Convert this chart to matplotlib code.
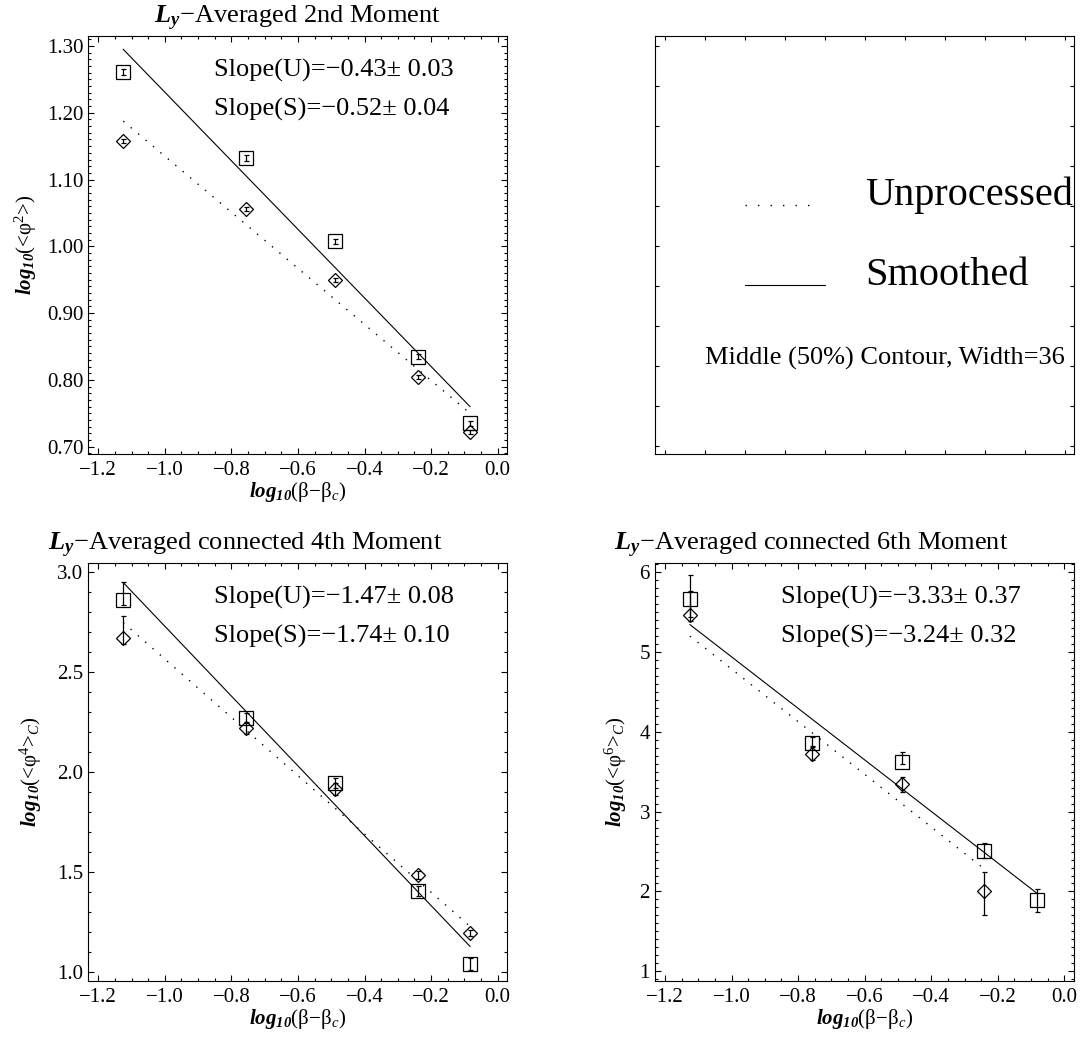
import numpy as np
import matplotlib
matplotlib.use('Agg')
import matplotlib.pyplot as plt
from matplotlib.ticker import MultipleLocator, FuncFormatter

plt.rcParams['font.family'] = 'Liberation Serif'
plt.rcParams['mathtext.fontset'] = 'custom'
plt.rcParams['mathtext.rm'] = 'Liberation Serif'
plt.rcParams['mathtext.it'] = 'Liberation Serif:italic'
plt.rcParams['mathtext.bf'] = 'Liberation Serif:bold'
plt.rcParams['mathtext.bfit'] = 'Liberation Serif:italic:bold'

# log10(beta - beta_c) for the five runs
x = [-1.125, -0.757, -0.488, -0.240, -0.083]

# 2nd moment
m2_s = [1.261, 1.1325, 1.0075, 0.835, 0.735]
m2_s_lo = [0.004, 0.004, 0.004, 0.004, 0.004]
m2_s_hi = [0.004, 0.004, 0.004, 0.004, 0.004]
m2_u = [1.1575, 1.0565, 0.950, 0.804, 0.7225]
m2_u_lo = [0.003, 0.003, 0.003, 0.003, 0.003]
m2_u_hi = [0.003, 0.003, 0.003, 0.003, 0.003]
m2_fit_s = [1.295, 0.760]
m2_fit_u = [1.1875, 0.750]

# connected 4th moment
m4_s = [2.857, 2.271, 1.945, 1.404, 1.040]
m4_s_lo = [0.025, 0.025, 0.025, 0.025, 0.03]
m4_s_hi = [0.09, 0.025, 0.025, 0.025, 0.03]
m4_u = [2.667, 2.218, 1.915, 1.481, 1.194]
m4_u_lo = [0.03, 0.03, 0.03, 0.02, 0.015]
m4_u_hi = [0.11, 0.03, 0.03, 0.02, 0.015]
m4_fit_s = [2.946, 1.126]
m4_fit_u = [2.746, 1.226]

# connected 6th moment (last unprocessed point not defined)
m6_s = [5.66, 3.86, 3.62, 2.51, 1.89]
m6_s_lo = [0.22, 0.05, 0.03, 0.09, 0.15]
m6_s_hi = [0.30, 0.07, 0.12, 0.10, 0.14]
m6_u = [5.46, 3.72, 3.34, 2.00, np.nan]
m6_u_lo = [0.08, 0.07, 0.09, 0.29, np.nan]
m6_u_hi = [0.30, 0.10, 0.09, 0.25, np.nan]
m6_fit_s = [5.339, 1.98]
m6_fit_u = [5.195, 2.28]

slopes2 = ['Slope(U)=\u22120.43\u00b1 0.03', 'Slope(S)=\u22120.52\u00b1 0.04']
slopes4 = ['Slope(U)=\u22121.47\u00b1 0.08', 'Slope(S)=\u22121.74\u00b1 0.10']
slopes6 = ['Slope(U)=\u22123.33\u00b1 0.37', 'Slope(S)=\u22123.24\u00b1 0.32']

xlab = r'$\mathbfit{log_{10}}$(β−β$_c$)'

fig = plt.figure(figsize=(10.8, 10.43), dpi=100)
W, H = 419 / 1080, 418 / 1043
ax2 = fig.add_axes([88.3 / 1080, 1 - 454 / 1043, W, H])
axl = fig.add_axes([655 / 1080, 1 - 454 / 1043, W, H])
ax4 = fig.add_axes([88.3 / 1080, 1 - 981 / 1043, W, H])
ax6 = fig.add_axes([655 / 1080, 1 - 981 / 1043, W, H])

dotted = (0, (1, 6))


def fmt(f):
    return FuncFormatter(lambda v, p: (f % v).replace('-', '\u2212'))


def panel(ax, s, slo, shi, u, ulo, uhi, fs, fu, xu_end, ylim, ymaj, ymin, yfmt,
          title, title_x, title_ha, ylabel, ylab_x, slopes):
    ax.errorbar(x, s, yerr=[slo, shi], fmt='s', ms=10.5, mfc='none', mec='k',
                mew=0.9, ecolor='k', elinewidth=0.9, capsize=1.8, capthick=0.9)
    ax.errorbar(x, u, yerr=[ulo, uhi], fmt='D', ms=7.3, mfc='none', mec='k',
                mew=0.9, ecolor='k', elinewidth=0.9, capsize=1.8, capthick=0.9)
    ax.plot([x[0], x[-1]], fs, color='k', lw=0.8)
    ax.plot([x[0], xu_end], fu, color='k', lw=1.0, linestyle=dotted)
    ax.set_xlim(-1.23, 0.029)
    ax.set_ylim(*ylim)
    ax.xaxis.set_major_locator(MultipleLocator(0.2))
    ax.xaxis.set_minor_locator(MultipleLocator(0.05))
    ax.yaxis.set_major_locator(MultipleLocator(ymaj))
    ax.yaxis.set_minor_locator(MultipleLocator(ymin))
    ax.xaxis.set_major_formatter(fmt('%.1f'))
    ax.yaxis.set_major_formatter(fmt(yfmt))
    ax.tick_params(which='both', direction='in', top=True, right=True,
                   width=0.8, labelsize=15)
    ax.tick_params(which='major', length=4.3)
    ax.tick_params(which='minor', length=2.2)
    ax.tick_params(axis='x', pad=5)
    ax.tick_params(axis='y', pad=3.6)
    for sp in ax.spines.values():
        sp.set_linewidth(0.8)
    ax.set_xlabel(xlab, fontsize=15, labelpad=0)
    ax.set_ylabel(ylabel, fontsize=15)
    ax.yaxis.set_label_coords(ylab_x, 0.5)
    ax.yaxis.label.set_verticalalignment('center')
    ax.text(title_x, 1.029, title, transform=ax.transAxes, fontsize=19,
            ha=title_ha, va='baseline')
    ax.text(0.30, 0.902, slopes[0], transform=ax.transAxes, fontsize=19,
            ha='left', va='baseline')
    ax.text(0.30, 0.81, slopes[1], transform=ax.transAxes, fontsize=19,
            ha='left', va='baseline')


panel(ax2, m2_s, m2_s_lo, m2_s_hi, m2_u, m2_u_lo, m2_u_hi, m2_fit_s, m2_fit_u,
      x[-1], (0.689, 1.315), 0.1, 0.01, '%.2f',
      r'$\mathbfit{L_y}$−Averaged 2nd Moment', 0.5, 'center',
      r'$\mathbfit{log_{10}}$(<φ$^{2}$>)', -0.149, slopes2)
panel(ax4, m4_s, m4_s_lo, m4_s_hi, m4_u, m4_u_lo, m4_u_hi, m4_fit_s, m4_fit_u,
      x[-1], (0.953, 3.044), 0.5, 0.1, '%.1f',
      r'$\mathbfit{L_y}$−Averaged connected 4th Moment', -0.097, 'left',
      r'$\mathbfit{log_{10}}$(<φ$^{4}$>$_{C}$)', -0.138, slopes4)
panel(ax6, m6_s, m6_s_lo, m6_s_hi, m6_u, m6_u_lo, m6_u_hi, m6_fit_s, m6_fit_u,
      x[3], (0.88, 6.11), 1, 0.1, '%d',
      r'$\mathbfit{L_y}$−Averaged connected 6th Moment', -0.097, 'left',
      r'$\mathbfit{log_{10}}$(<φ$^{6}$>$_{C}$)', -0.094, slopes6)

# legend panel
axl.set_xlim(-0.25, 10.225)
axl.set_ylim(-0.2, 10.25)
axl.xaxis.set_major_locator(MultipleLocator(1))
axl.yaxis.set_major_locator(MultipleLocator(1))
axl.tick_params(direction='in', top=True, right=True, length=3, width=0.8,
                labelbottom=False, labelleft=False)
for sp in axl.spines.values():
    sp.set_linewidth(0.8)
axl.plot([0.215, 0.394], [0.596, 0.596], transform=axl.transAxes, color='k',
         lw=1.0, linestyle=(0, (1, 8)))
axl.plot([0.215, 0.406], [0.404, 0.404], transform=axl.transAxes, color='k',
         lw=0.8)
axl.text(0.501, 0.596, 'Unprocessed', transform=axl.transAxes, fontsize=29,
         va='baseline', clip_on=True)
axl.text(0.501, 0.404, 'Smoothed', transform=axl.transAxes, fontsize=29,
         va='baseline', clip_on=True)
axl.text(0.119, 0.215, 'Middle (50%) Contour, Width=36', transform=axl.transAxes,
         fontsize=19, va='baseline', clip_on=True)

fig.savefig('out.png', dpi=100)
